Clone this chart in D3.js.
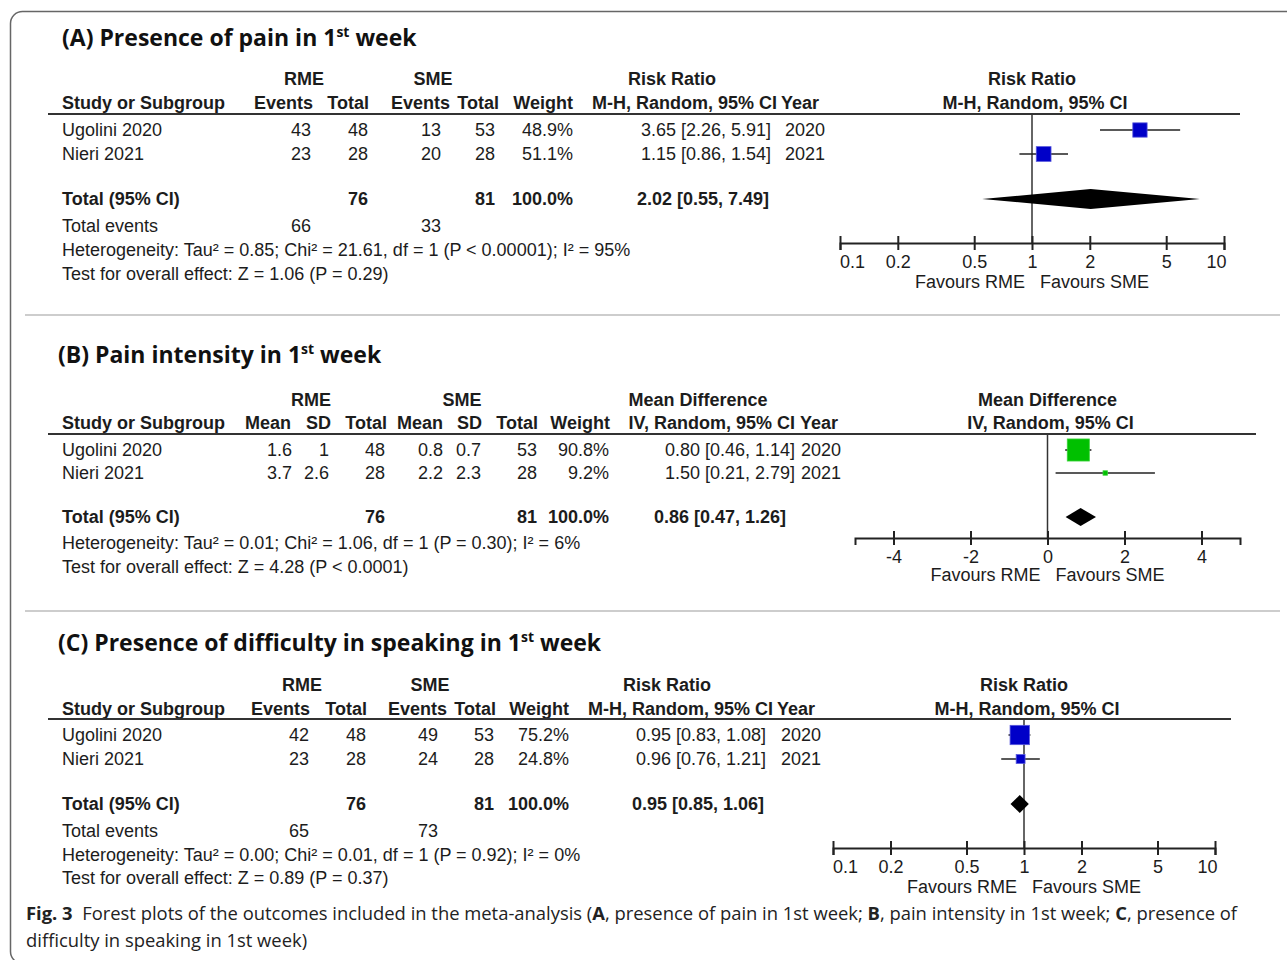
<!DOCTYPE html>
<html lang="en">
<head>
<meta charset="utf-8"/>
<title>Fig. 3 - Forest plots</title>
<script src="https://d3js.org/d3.v7.min.js"></script>
<style>
    body { margin: 0; background: #fff; }
    text { font-family: "Liberation Sans", Arial, sans-serif; font-size: 18px; fill: #1c1c1c; }
    .b { font-weight: bold; }
    .title { font-family: "Open Sans", sans-serif; font-weight: bold; font-size: 23px; fill: #111; }
    .caption { font-family: "Open Sans", sans-serif; font-size: 18.4px; fill: #222; white-space: pre; }
</style>
</head>
<body>
<svg id="fig" width="1287" height="960"></svg>
<script>
// ---- datos ----
const studies = ["Ugolini 2020", "Nieri 2021"];
const years = [2020, 2021];

// (A) dolor 1a semana
const painEventsRME = [43, 23];
const painTotalRME = [48, 28];
const painEventsSME = [13, 20];
const painTotalSME = [53, 28];
const painWeight = [48.9, 51.1];
const painRR = [3.65, 1.15];
const painLow = [2.26, 0.86];
const painHigh = [5.91, 1.54];
const painPooled = [2.02, 0.55, 7.49];
const painGroupTotals = [76, 81];
const painTotalEvents = [66, 33];
const painHet = "Heterogeneity: Tau² = 0.85; Chi² = 21.61, df = 1 (P < 0.00001); I² = 95%";
const painTest = "Test for overall effect: Z = 1.06 (P = 0.29)";

// (B) intensidad del dolor
const intMeanRME = [1.6, 3.7];
const intSDRME = [1, 2.6];
const intTotalRME = [48, 28];
const intMeanSME = [0.8, 2.2];
const intSDSME = [0.7, 2.3];
const intTotalSME = [53, 28];
const intWeight = [90.8, 9.2];
const intMD = [0.80, 1.50];
const intLow = [0.46, 0.21];
const intHigh = [1.14, 2.79];
const intPooled = [0.86, 0.47, 1.26];
const intGroupTotals = [76, 81];
const intHet = "Heterogeneity: Tau² = 0.01; Chi² = 1.06, df = 1 (P = 0.30); I² = 6%";
const intTest = "Test for overall effect: Z = 4.28 (P < 0.0001)";

// (C) dificultad para hablar
const speakEventsRME = [42, 23];
const speakTotalRME = [48, 28];
const speakEventsSME = [49, 24];
const speakTotalSME = [53, 28];
const speakWeight = [75.2, 24.8];
const speakRR = [0.95, 0.96];
const speakLow = [0.83, 0.76];
const speakHigh = [1.08, 1.21];
const speakPooled = [0.95, 0.85, 1.06];
const speakGroupTotals = [76, 81];
const speakTotalEvents = [65, 73];
const speakHet = "Heterogeneity: Tau² = 0.00; Chi² = 0.01, df = 1 (P = 0.92); I² = 0%";
const speakTest = "Test for overall effect: Z = 0.89 (P = 0.37)";

const rrTicks = [0.1, 0.2, 0.5, 1, 2, 5, 10];
const mdTicks = [-4, -2, 0, 2, 4];

const pct = v => v.toFixed(1) + "%";
const ci = (e, l, h) => e.toFixed(2) + " [" + l.toFixed(2) + ", " + h.toFixed(2) + "]";

// tamaño del cuadrado segun el peso
const boxSize = d3.scalePow().exponent(0.7).domain([0, 100]).range([0, 23.6]);

const svg = d3.select("#fig");

// marco y separadores
svg.append("rect")
    .attr("x", 10.5).attr("y", 11.5).attr("width", 1400).attr("height", 952).attr("rx", 12)
    .attr("fill", "none").attr("stroke", "#666").attr("stroke-width", 1.5);
[315, 611].forEach(y => {
    svg.append("line").attr("x1", 25).attr("x2", 1280).attr("y1", y).attr("y2", y)
        .attr("stroke", "#bdbdbd").attr("stroke-width", 1.5);
});

const panels = [
    {
        title: "(A) Presence of pain in 1", titleX: 62, titleY: 38, kind: "rr", color: "#0000c8", border: "#5858dc",
        groups: [["RME", 304], ["SME", 433], ["Risk Ratio", 672]],
        sub: "M-H, Random, 95% CI", subEnd: 777, yearHead: 781,
        cols: [
            {h: "Events", hx: 313, v: painEventsRME, vx: 311, ev: painTotalEvents[0]},
            {h: "Total", hx: 369, v: painTotalRME, vx: 368, tot: painGroupTotals[0]},
            {h: "Events", hx: 450, v: painEventsSME, vx: 441, ev: painTotalEvents[1]},
            {h: "Total", hx: 499, v: painTotalSME, vx: 495, tot: painGroupTotals[1]},
            {h: "Weight", hx: 573, v: painWeight.map(pct), vx: 573, tot: "100.0%"}
        ],
        est: painRR, lo: painLow, hi: painHigh, w: painWeight, pooled: painPooled,
        effEnd: 771, poolEnd: 769, yearX: 785,
        het: painHet, test: painTest,
        y: {h1: 79, h2: 103, line: 114, rows: [130, 154], total: 199, events: 226, het: 250, test: 274, axis: 243},
        range: [840, 1224], ticks: rrTicks, diamondH: 20, plotTitle: "Risk Ratio"
    },
    {
        title: "(B) Pain intensity in 1", titleX: 58, titleY: 355, kind: "md", color: "#00c000", border: "#3ad43a",
        groups: [["RME", 311], ["SME", 462], ["Mean Difference", 698]],
        sub: "IV, Random, 95% CI", subEnd: 795, yearHead: 800,
        cols: [
            {h: "Mean", hx: 291, v: intMeanRME, vx: 292},
            {h: "SD", hx: 331, v: intSDRME, vx: 329},
            {h: "Total", hx: 387, v: intTotalRME, vx: 385, tot: intGroupTotals[0]},
            {h: "Mean", hx: 443, v: intMeanSME, vx: 443},
            {h: "SD", hx: 482, v: intSDSME, vx: 481},
            {h: "Total", hx: 538, v: intTotalSME, vx: 537, tot: intGroupTotals[1]},
            {h: "Weight", hx: 610, v: intWeight.map(pct), vx: 609, tot: "100.0%"}
        ],
        est: intMD, lo: intLow, hi: intHigh, w: intWeight, pooled: intPooled,
        effEnd: 795, poolEnd: 786, yearX: 801,
        het: intHet, test: intTest,
        y: {h1: 400, h2: 423, line: 434, rows: [450, 473], total: 517, events: null, het: 543, test: 567, axis: 538},
        range: [855, 1240], ticks: mdTicks, diamondH: 18, plotTitle: "Mean Difference"
    },
    {
        title: "(C) Presence of difficulty in speaking in 1", titleX: 58, titleY: 643, kind: "rr", color: "#0000c8", border: "#5858dc",
        groups: [["RME", 302], ["SME", 430], ["Risk Ratio", 667]],
        sub: "M-H, Random, 95% CI", subEnd: 773, yearHead: 777,
        cols: [
            {h: "Events", hx: 310, v: speakEventsRME, vx: 309, ev: speakTotalEvents[0]},
            {h: "Total", hx: 367, v: speakTotalRME, vx: 366, tot: speakGroupTotals[0]},
            {h: "Events", hx: 447, v: speakEventsSME, vx: 438, ev: speakTotalEvents[1]},
            {h: "Total", hx: 496, v: speakTotalSME, vx: 494, tot: speakGroupTotals[1]},
            {h: "Weight", hx: 569, v: speakWeight.map(pct), vx: 569, tot: "100.0%"}
        ],
        est: speakRR, lo: speakLow, hi: speakHigh, w: speakWeight, pooled: speakPooled,
        effEnd: 766, poolEnd: 764, yearX: 781,
        het: speakHet, test: speakTest,
        y: {h1: 685, h2: 709, line: 719, rows: [735, 759], total: 804, events: 831, het: 855, test: 878, axis: 848},
        range: [833, 1215], ticks: rrTicks, diamondH: 18, plotTitle: "Risk Ratio"
    }
];

function txt(g, x, y, s, anchor, cls) {
    return g.append("text").attr("x", x).attr("y", y).attr("dy", "0.35em")
        .attr("text-anchor", anchor || "start").attr("class", cls || null).text(s);
}

function drawPanel(p) {
    const g = svg.append("g");

    // titulo con superindice
    const t = g.append("text").attr("class", "title").attr("x", p.titleX).attr("y", p.titleY + 8);
    t.append("tspan").text(p.title);
    t.append("tspan").attr("dy", -9).style("font-size", "14px").text("st");
    t.append("tspan").attr("dy", 9).text(" week");

    // encabezados
    p.groups.forEach(d => txt(g, d[1], p.y.h1, d[0], "middle", "b"));
    txt(g, 62, p.y.h2, "Study or Subgroup", "start", "b");
    p.cols.forEach(c => txt(g, c.hx, p.y.h2, c.h, "end", "b"));
    txt(g, p.subEnd, p.y.h2, p.sub, "end", "b");
    txt(g, p.yearHead, p.y.h2, "Year", "start", "b");

    const x = p.kind === "rr"
        ? d3.scaleLog().domain([0.1, 10]).range(p.range)
        : d3.scaleLinear().domain([-5, 5]).range(p.range);
    const ref = p.kind === "rr" ? 1 : 0;
    const cx = x(ref);

    txt(g, cx, p.y.h1, p.plotTitle, "middle", "b");
    txt(g, cx + 3, p.y.h2, p.sub, "middle", "b");

    g.append("line").attr("x1", 48).attr("x2", p.range[1] + 16)
        .attr("y1", p.y.line).attr("y2", p.y.line)
        .attr("stroke", "#333").attr("stroke-width", 2);

    // filas de estudios
    studies.forEach((s, i) => {
        const y = p.y.rows[i];
        txt(g, 62, y, s);
        p.cols.forEach(c => txt(g, c.vx, y, String(c.v[i]), "end"));
        txt(g, p.effEnd, y, ci(p.est[i], p.lo[i], p.hi[i]), "end");
        txt(g, p.yearX, y, years[i]);
    });

    // total
    txt(g, 62, p.y.total, "Total (95% CI)", "start", "b");
    p.cols.filter(c => c.tot !== undefined).forEach(c => txt(g, c.vx, p.y.total, String(c.tot), "end", "b"));
    txt(g, p.poolEnd, p.y.total, ci(p.pooled[0], p.pooled[1], p.pooled[2]), "end", "b");

    if (p.y.events !== null) {
        txt(g, 62, p.y.events, "Total events");
        p.cols.filter(c => c.ev !== undefined).forEach(c => txt(g, c.vx, p.y.events, String(c.ev), "end"));
    }
    txt(g, 62, p.y.het, p.het);
    txt(g, 62, p.y.test, p.test);

    // linea de no efecto
    g.append("line").attr("x1", cx).attr("x2", cx).attr("y1", p.y.line).attr("y2", p.y.axis)
        .attr("stroke", "#333").attr("stroke-width", 1.5);

    // eje
    const axis = d3.axisBottom(x).tickValues(p.ticks).tickSizeOuter(0).tickSize(7)
        .tickFormat(d => String(d));
    const ax = g.append("g").attr("transform", `translate(0,${p.y.axis})`).call(axis);
    ax.select(".domain").attr("stroke", "#222").attr("stroke-width", 2);
    ax.selectAll(".tick line").attr("y1", -7).attr("stroke", "#222").attr("stroke-width", 2);
    ax.selectAll(".tick text").attr("y", 12).attr("dy", "0.71em")
        .style("font-family", "'Liberation Sans', Arial, sans-serif").style("font-size", "18px").attr("fill", "#1c1c1c");
    if (p.kind === "rr") {
        ax.selectAll(".tick text").filter(d => d === 0.1).attr("dx", 12);
        ax.selectAll(".tick text").filter(d => d === 10).attr("dx", -8);
    }

    const favY = p.y.axis + (p.kind === "rr" ? 39 : 37);
    txt(g, cx - 7, favY, "Favours RME", "end");
    txt(g, cx + 8, favY, "Favours SME", "start");

    // intervalos y cuadrados
    studies.forEach((s, i) => {
        const y = p.y.rows[i];
        g.append("line").attr("x1", x(p.lo[i])).attr("x2", x(p.hi[i])).attr("y1", y).attr("y2", y)
            .attr("stroke", "#222").attr("stroke-width", 1.6);
        const sz = boxSize(p.w[i]);
        g.append("rect").attr("x", x(p.est[i]) - sz / 2).attr("y", y - sz / 2)
            .attr("width", sz).attr("height", sz)
            .attr("fill", p.color).attr("stroke", p.border).attr("stroke-width", 0.8);
    });

    // diamante
    const yd = p.y.total, hh = p.diamondH / 2;
    g.append("path")
        .attr("d", d3.line()([
            [x(p.pooled[1]), yd], [x(p.pooled[0]), yd - hh],
            [x(p.pooled[2]), yd], [x(p.pooled[0]), yd + hh]
        ]) + "Z")
        .attr("fill", "#000");
}

panels.forEach(drawPanel);

// pie de figura
const cap = svg.append("text").attr("class", "caption").attr("x", 26).attr("y", 914).attr("dy", "0.35em");
cap.append("tspan").style("font-weight", "bold").text("Fig. 3");
cap.append("tspan").text("  Forest plots of the outcomes included in the meta-analysis (");
cap.append("tspan").style("font-weight", "bold").text("A");
cap.append("tspan").text(", presence of pain in 1st week; ");
cap.append("tspan").style("font-weight", "bold").text("B");
cap.append("tspan").text(", pain intensity in 1st week; ");
cap.append("tspan").style("font-weight", "bold").text("C");
cap.append("tspan").text(", presence of");
svg.append("text").attr("class", "caption").attr("x", 26).attr("y", 941).attr("dy", "0.35em")
    .text("difficulty in speaking in 1st week)");
</script>
</body>
</html>
